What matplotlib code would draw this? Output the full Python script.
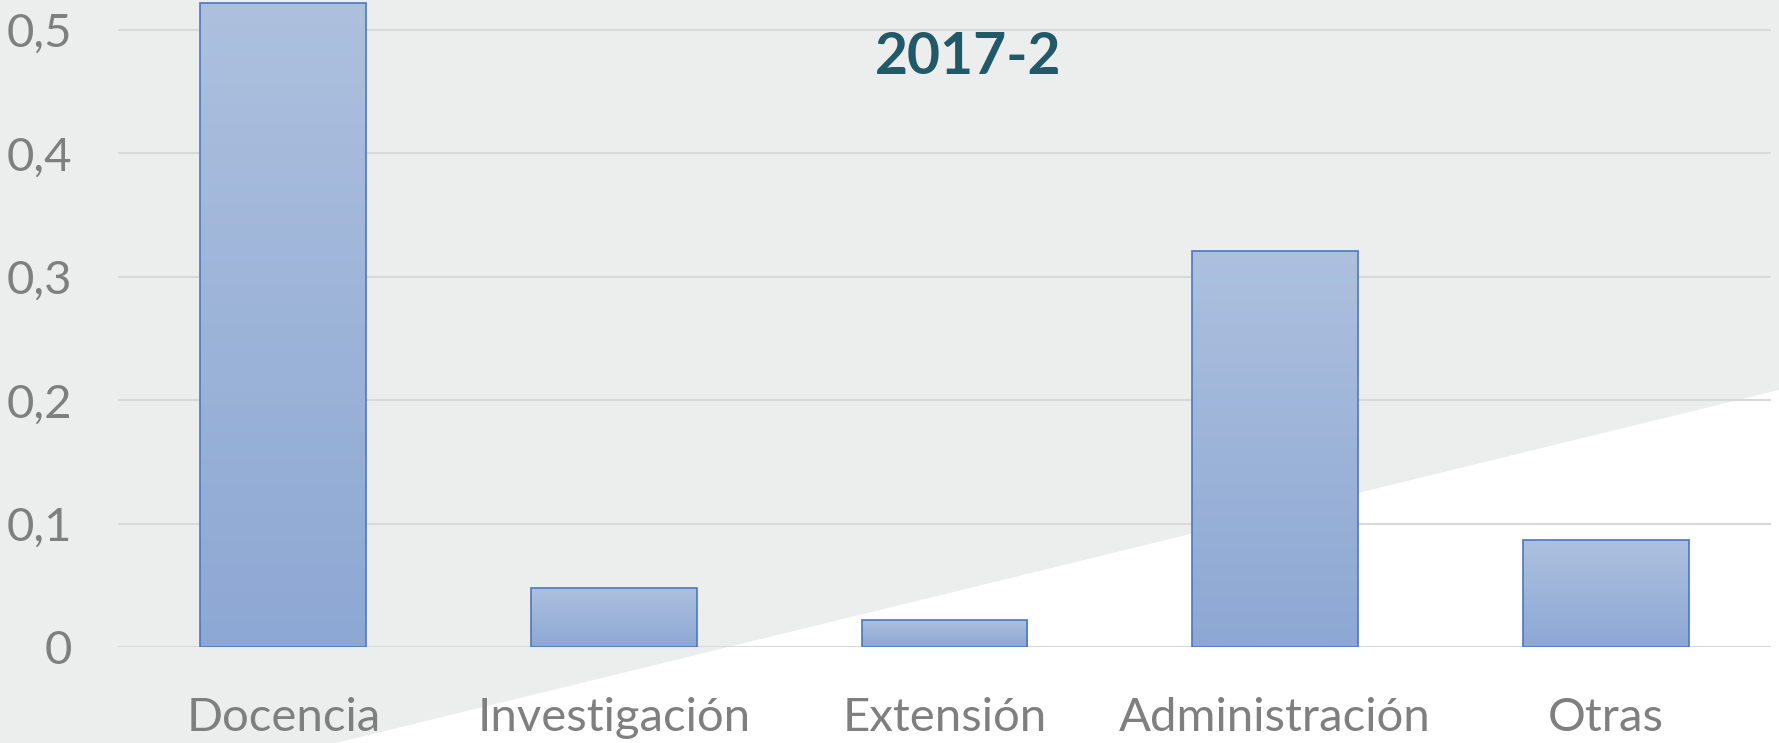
import numpy as np
import matplotlib
matplotlib.use("Agg")
import matplotlib.pyplot as plt
from matplotlib.patches import Polygon, Rectangle
from matplotlib.colors import LinearSegmentedColormap

categories = ["Docencia", "Investigación", "Extensión", "Administración", "Otras"]
values = [0.522, 0.048, 0.022, 0.321, 0.087]
yticks = [0, 0.1, 0.2, 0.3, 0.4, 0.5]
ytick_labels = ["0", "0,1", "0,2", "0,3", "0,4", "0,5"]
title = "2017-2"

plt.rcParams["font.family"] = ["Lato", "DejaVu Sans"]

W, H = 1779, 743
fig = plt.figure(figsize=(W / 100, H / 100), dpi=100)
fig.patch.set_facecolor("#ECEEED")

# white wedge in the lower right corner, behind the axes
wedge = Polygon([(336 / W, 0), (1, 0), (1, 1 - 390 / H)], closed=True,
                transform=fig.transFigure, facecolor="white", edgecolor="none", zorder=-5)
fig.patches.append(wedge)

ax = fig.add_axes([118 / W, 1 - 647 / H, (1771 - 118) / W, 647 / H])
ax.set_zorder(1)
ax.patch.set_alpha(0)

for y in yticks:
    ax.axhline(y, color="#D9D9D9", lw=1.5, zorder=1)

grad = LinearSegmentedColormap.from_list("bar", ["#8DA8D4", "#ADC0DE"])
width = 0.502
for i, v in enumerate(values):
    x0 = i - width / 2
    img = ax.imshow(np.linspace(0, 1, 256).reshape(-1, 1), cmap=grad, origin="lower",
                    extent=(x0, x0 + width, 0, v), aspect="auto", zorder=2)
    rect = Rectangle((x0, 0), width, v, facecolor="none", edgecolor="#4A78C2",
                     lw=1.2, zorder=3)
    ax.add_patch(rect)
    img.set_clip_path(rect)
ax.set_xlim(-0.5, len(categories) - 0.5)
ax.set_ylim(0, 0.5243)

ax.set_xticks(range(len(categories)))
ax.set_xticklabels(categories)
ax.set_yticks(yticks)
ax.set_yticklabels(ytick_labels)
ax.tick_params(axis="both", length=0, colors="#7F7F7F", labelsize=34)
ax.tick_params(axis="y", pad=33)
ax.tick_params(axis="x", pad=36)
for s in ax.spines.values():
    s.set_visible(False)

fig.text(968 / W, 1 - 74 / H, title, ha="center", va="baseline",
         fontsize=41, fontweight="bold", color="#215968")

fig.savefig("out.png", dpi=100, facecolor=fig.get_facecolor())
